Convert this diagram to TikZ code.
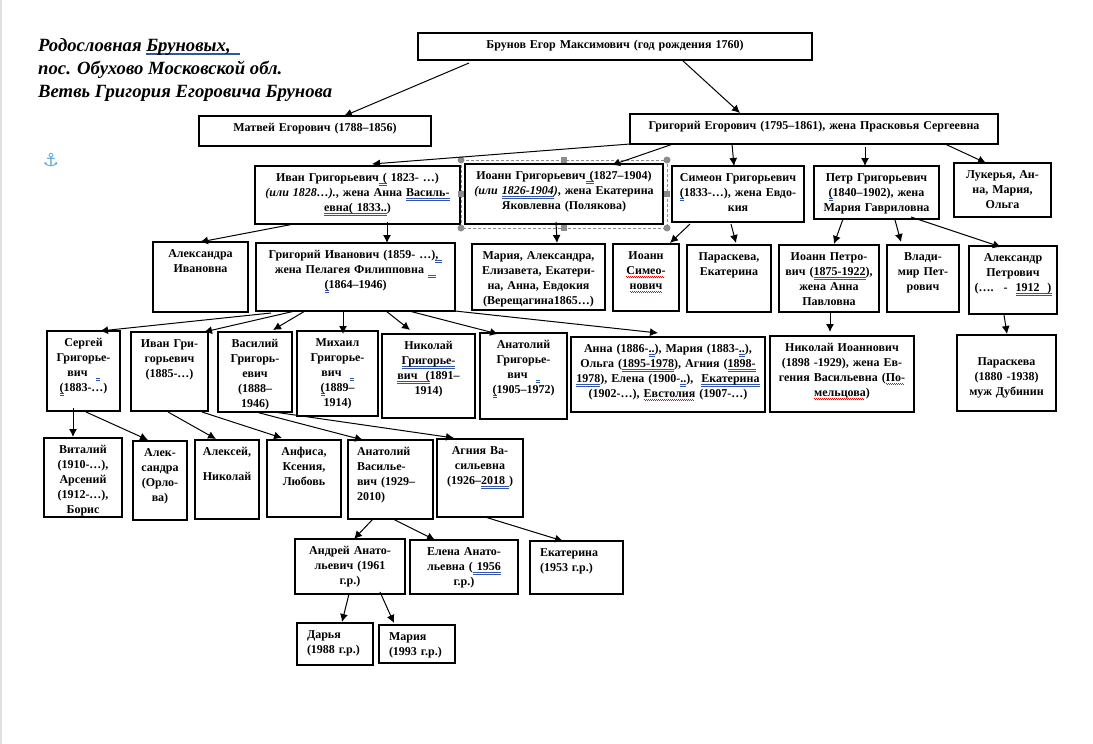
\documentclass[tikz,border=0pt]{standalone}
\usepackage{fontspec}
\usetikzlibrary{arrows.meta}
\setmainfont{Liberation Serif}
\newfontfamily\symfont{DejaVu Sans}
\definecolor{markblue}{RGB}{47,84,170}
\definecolor{handlegray}{RGB}{140,140,140}
\definecolor{anchorblue}{RGB}{90,165,215}
\newsavebox{\markbox}
\newcommand{\bluu}[1]{\leavevmode\sbox{\markbox}{#1}\rlap{\textcolor{markblue}{\rule[-2pt]{\wd\markbox}{.5pt}}}\rlap{\textcolor{markblue}{\rule[-3.5pt]{\wd\markbox}{.5pt}}}\usebox{\markbox}}
\newcommand{\redw}[1]{\leavevmode\sbox{\markbox}{#1}\rlap{\textcolor{red}{\hbox to \wd\markbox{\leaders\hbox to 2pt{\rule[-2.2pt]{1pt}{.6pt}\rule[-3pt]{1pt}{.6pt}}\hfill}}}\usebox{\markbox}}
\tikzset{
  pbox/.style 2 args={draw,line width=1.3pt,anchor=north west,inner xsep=1pt,inner ysep=3pt,outer sep=0pt,
    align=center,text width=#1pt-2pt,text height=12.7pt,text depth=#2pt-18.7pt,
    font=\fontsize{12}{15}\selectfont\bfseries},
  arr/.style={-{Latex[length=8pt,width=8pt]},line width=1pt}
}
\begin{document}
\begin{tikzpicture}[x=1pt,y=-1pt]
\useasboundingbox (0,0) rectangle (1093,744);
\fill[black!12] (0,0) rectangle (2,744);
\node[anchor=north west,inner sep=0pt,align=left,font=\fontsize{18.7}{23}\selectfont\bfseries\itshape] (title) at (38,38)
  {Родословная \bluu{Бруновых,\ \ }\\пос. Обухово Московской обл.\\Ветвь Григория Егоровича Брунова};
\node[anchor=center,inner sep=0pt,text=anchorblue,font=\fontsize{18}{18}\symfont] (anchormark) at (51,160) {⚓};
% first rows
\node[pbox={394}{27}] (top) at (418,33) {Брунов Егор Максимович (год рождения 1760)};
\node[pbox={232}{30}] (matvey) at (199,116) {Матвей Егорович (1788–1856)};
\node[pbox={368}{30}] (grig) at (630,114) {Григорий Егорович (1795–1861), жена Прасковья Сергеевна};
\node[pbox={205}{58}] (ivan) at (255,166) {Иван Григорьевич\bluu{\ (}\ 1823- …)\\\textit{(или 1828…).}, жена Анна \bluu{Василь-}\\\bluu{евна( 1833..})};
\node[pbox={198}{60}] (ioann) at (465,164) {Иоанн Григорьевич\bluu{\ (}1827–1904)\\\textit{(или \bluu{1826-1904})}, жена Екатерина\\Яковлевна (Полякова)};
\node[pbox={132}{56}] (simeon) at (672,166) {Симеон Григорьевич\\\bluu{(}1833-…), жена Евдо-\\кия};
\node[pbox={125}{53}] (petr) at (814,166) {Петр Григорьевич\\\bluu{(}1840–1902), жена\\Мария Гавриловна};
\node[pbox={97}{54}] (lukerya) at (954,163) {Лукерья, Ан-\\на, Мария,\\Ольга};
% grandchildren
\node[pbox={95}{70}] (alexiv) at (153,242) {Александра\\Ивановна};
\node[pbox={199}{68}] (grigiv) at (256,243) {Григорий Иванович (1859- …)\bluu{,\ }\\жена Пелагея Филипповна\ \bluu{\ \ }\\\bluu{(}1864–1946)};
\node[pbox={133}{66}] (mariaio) at (472,244) {Мария, Александра,\\Елизавета, Екатери-\\на, Анна, Евдокия\\(Верещагина1865…)};
\node[pbox={66}{67}] (ioansim) at (613,244) {Иоанн\\\redw{Симео-}\\\redw{нович}};
\node[pbox={84}{67}] (parasim) at (687,245) {Параскева,\\Екатерина};
\node[pbox={100}{67}] (ioanpet) at (779,245) {Иоанн Петро-\\вич (\bluu{1875-1922}),\\жена Анна\\Павловна};
\node[pbox={72}{67}] (vladpet) at (887,245) {Влади-\\мир Пет-\\рович};
\node[pbox={88}{68}] (alexpet) at (969,246) {Александр\\Петрович\\(…. \ - \ \bluu{1912 \ )}};
% children of Grigory Ivanovich
\node[pbox={73}{80}] (sergey) at (47,331) {Сергей\\Григорье-\\вич \ \bluu{\ }\\\bluu{(}1883-…)};
\node[pbox={77}{79}] (ivangr) at (131,332) {Иван Гри-\\горьевич\\(1885-…)};
\node[pbox={74}{80}] (vasily) at (218,332) {Василий\\Григорь-\\евич\\(1888–\\1946)};
\node[pbox={81}{85}] (mikhail) at (297,331) {Михаил\\Григорье-\\вич \ \bluu{\ }\\\bluu{(}1889–\\1914)};
\node[pbox={93}{84}] (nikolay) at (382,334) {Николай\\\bluu{Григорье-}\\\bluu{вич \ (}1891–\\1914)};
\node[pbox={87}{86}] (anatoly) at (480,333) {Анатолий\\Григорье-\\вич \ \bluu{\ }\\\bluu{(}1905–1972)};
\node[pbox={194}{75}] (annagr) at (571,337) {Анна (1886-\bluu{..}), Мария (1883-\bluu{..}),\\Ольга (\bluu{1895-1978}), Агния (\bluu{1898-}\\\bluu{1978}), Елена (1900-\bluu{..}), \ \bluu{Екатерина}\\(1902-…), \redw{Евстолия} (1907-…)};
\node[pbox={144}{76}] (nikioan) at (770,336) {Николай Иоаннович\\(1898 -1929), жена Ев-\\гения Васильевна (\redw{По-}\\\redw{мельцова})};
\node[pbox={99}{76}] (parapet) at (957,335) {\mbox{}\\Параскева\\(1880 -1938)\\муж Дубинин};
% next generation
\node[pbox={78}{79}] (vitaly) at (44,438) {Виталий\\(1910-…),\\Арсений\\(1912-…),\\Борис};
\node[pbox={54}{79}] (alexser) at (133,441) {Алек-\\сандра\\(Орло-\\ва)};
\node[pbox={64}{79}] (aleksey) at (195,440) {Алексей,\\[10pt]Николай};
\node[pbox={74}{77}] (anfisa) at (267,440) {Анфиса,\\Ксения,\\Любовь};
\node[pbox={85}{79},align=left] (anatvas) at (348,440) {\leftskip=8pt Анатолий\\Василье-\\вич (1929–\\2010)\par};
\node[pbox={86}{78}] (agnia) at (437,439) {Агния Ва-\\сильевна\\(1926–\bluu{2018 })};
\node[pbox={110}{55}] (andrey) at (295,539) {Андрей Анато-\\льевич (1961\\г.р.)};
\node[pbox={108}{54}] (elena) at (410,540) {Елена Анато-\\льевна (\bluu{\ 1956}\\г.р.)};
\node[pbox={93}{53},align=left] (ekat) at (530,541) {\leftskip=9pt Екатерина\\(1953 г.р.)\par};
\node[pbox={76}{42},align=left] (darya) at (297,623) {\leftskip=9pt Дарья\\(1988 г.р.)\par};
\node[pbox={76}{38},align=left] (mariaan) at (379,625) {\leftskip=9pt Мария\\(1993 г.р.)\par};
% selection frame round Ioann
\draw[handlegray,densely dashed] ([shift={(-4,-4)}]ioann.north west) rectangle ([shift={(4,4)}]ioann.south east);
\foreach \c/\dx/\dy in {north west/-4/-4,north east/4/-4,south west/-4/4,south east/4/4}
  \fill[handlegray] ([shift={(\dx,\dy)}]ioann.\c) circle (3.5pt);
\foreach \c/\dx/\dy in {north/0/-4,south/0/4,west/-4/0,east/4/0}
  \fill[handlegray] ([shift={(\dx,\dy)}]ioann.\c) ++(-3,-3) rectangle ++(6,6);
% connectors
\draw[arr] ([shift={(51,3)}]top.south west) -- ([shift={(145,0)}]matvey.north west);
\draw[arr] ([shift={(264,0)}]top.south west) -- ([shift={(110,-1)}]grig.north west);
\draw[arr] (grig.south west) -- ([shift={(117,-2)}]ivan.north west);
\draw[arr] ([shift={(43,0)}]grig.south west) -- ([shift={(147,1)}]ioann.north west);
\draw[arr] ([shift={(102,0)}]grig.south west) -- ([shift={(62,0)}]simeon.north west);
\draw[arr] ([shift={(235,3)}]grig.south west) -- ([shift={(51,0)}]petr.north west);
\draw[arr] ([shift={(315,0)}]grig.south west) -- ([shift={(32,0)}]lukerya.north west);
\draw[arr] ([shift={(39,0)}]ivan.south west) -- ([shift={(47,0)}]alexiv.north west);
\draw[arr] ([shift={(132,-2)}]ivan.south west) -- ([shift={(131,0)}]grigiv.north west);
\draw[arr] ([shift={(91,-2)}]ioann.south west) -- ([shift={(85,-1)}]mariaio.north west);
\draw[arr] ([shift={(18,2)}]simeon.south west) -- ([shift={(57,-1)}]ioansim.north west);
\draw[arr] ([shift={(59,2)}]simeon.south west) -- ([shift={(49,-2)}]parasim.north west);
\draw[arr] ([shift={(29,0)}]petr.south west) -- ([shift={(55,-1)}]ioanpet.north west);
\draw[arr] ([shift={(81,1)}]petr.south west) -- ([shift={(14,-3)}]vladpet.north west);
\draw[arr] ([shift={(97,-2)}]petr.south west) -- ([shift={(32,1)}]alexpet.north west);
\draw[arr] ([shift={(51,1)}]ioanpet.south west) -- ([shift={(60,-4)}]nikioan.north west);
\draw[arr] ([shift={(35,1)}]alexpet.south west) -- ([shift={(50,-1)}]parapet.north west);
\draw[arr] ([shift={(15,2)}]grigiv.south west) -- ([shift={(53,0)}]sergey.north west);
\draw[arr] ([shift={(39,0)}]grigiv.south west) -- ([shift={(73,0)}]ivangr.north west);
\draw[arr] ([shift={(49,0)}]grigiv.south west) -- ([shift={(55,-2)}]vasily.north west);
\draw[arr] ([shift={(87,0)}]grigiv.south west) -- ([shift={(46,3)}]mikhail.north west);
\draw[arr] ([shift={(130,0)}]grigiv.south west) -- ([shift={(28,-4)}]nikolay.north west);
\draw[arr] ([shift={(153,0)}]grigiv.south west) -- ([shift={(18,1)}]anatoly.north west);
\draw[arr] ([shift={(199,0)}]grigiv.south west) -- ([shift={(87,-4)}]annagr.north west);
\draw[arr] ([shift={(26,-3)}]sergey.south west) -- ([shift={(29,-1)}]vitaly.north west);
\draw[arr] ([shift={(39,1)}]sergey.south west) -- ([shift={(15,-1)}]alexser.north west);
\draw[arr] ([shift={(37,1)}]ivangr.south west) -- ([shift={(21,-1)}]aleksey.north west);
\draw[arr] ([shift={(71,1)}]ivangr.south west) -- ([shift={(15,-2)}]anfisa.north west);
\draw[arr] ([shift={(38,0)}]vasily.south west) -- ([shift={(15,0)}]anatvas.north west);
\draw[arr] ([shift={(56,0)}]vasily.south west) -- ([shift={(17,-1)}]agnia.north west);
\draw[arr] ([shift={(25,0)}]anatvas.south west) -- ([shift={(59,0)}]andrey.north west);
\draw[arr] ([shift={(45,0)}]anatvas.south west) -- ([shift={(25,0)}]elena.north west);
\draw[arr] ([shift={(48,0)}]agnia.south west) -- ([shift={(33,0)}]ekat.north west);
\draw[arr] ([shift={(54,0)}]andrey.south west) -- ([shift={(45,-1)}]darya.north west);
\draw[arr] ([shift={(85,-2)}]andrey.south west) -- ([shift={(15,-2)}]mariaan.north west);
\end{tikzpicture}
\end{document}
